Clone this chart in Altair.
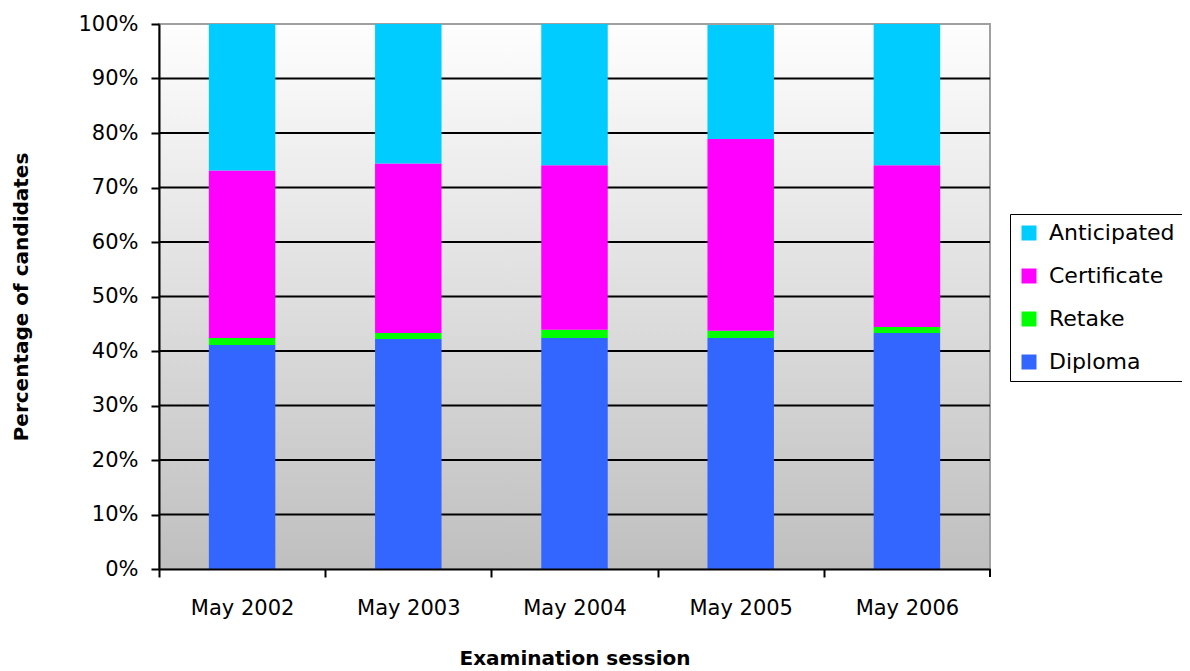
import altair as alt
import pandas as pd

sessions = ["May 2002", "May 2003", "May 2004", "May 2005", "May 2006"]
series = ["Diploma", "Retake", "Certificate", "Anticipated"]
diploma = [41.1, 42.2, 42.4, 42.4, 43.3]
retake = [1.3, 1.1, 1.5, 1.3, 1.1]
certificate = [30.7, 31.1, 30.2, 35.2, 29.7]
anticipated = [26.9, 25.6, 25.9, 20.9, 25.9]
legend_order = ["Anticipated", "Certificate", "Retake", "Diploma"]
legend_colors = ["#00CCFF", "#FF00FF", "#00FF00", "#3366FF"]
y_ticks = list(range(0, 101, 10))
grid_vals = list(range(10, 100, 10))

rows = []
for i, s in enumerate(sessions):
    for k, (name, vals) in enumerate(zip(series, [diploma, retake, certificate, anticipated])):
        rows.append({"session": s, "series": name, "value": vals[i], "order": k})
df = pd.DataFrame(rows)

W, H = 831, 545
FONT = "DejaVu Sans"
PAD_INNER, PAD_OUTER = 0.6, 0.3
step = W / (len(sessions) - PAD_INNER + 2 * PAD_OUTER)

xscale = alt.Scale(domain=sessions, paddingInner=PAD_INNER, paddingOuter=PAD_OUTER)
yscale = alt.Scale(domain=[0, 100], nice=False)
yaxis = alt.Axis(values=y_ticks, labelExpr="datum.value + '%'", grid=False,
                 tickSize=8, tickWidth=2, tickColor="black",
                 domainColor="black", domainWidth=2,
                 labelFontSize=21, labelColor="black", labelPadding=13, labelFont=FONT,
                 title="Percentage of candidates", titleFontSize=20, titleFontWeight="bold",
                 titleColor="black", titleFont=FONT, titleX=-138, titleY=272.5, titleAngle=270,
                 titleAlign="center", titleBaseline="middle", zindex=1)
xaxis = alt.Axis(labelAngle=0, labelFontSize=21, labelColor="black",
                 labelFont=FONT, labelPadding=20, tickSize=8, tickWidth=2, tickColor="black",
                 tickOffset=-step / 2, labelOffset=step / 2,
                 domainColor="black", domainWidth=2, grid=False,
                 title="Examination session", titleFontSize=20, titleFontWeight="bold",
                 titleColor="black", titleFont=FONT, titleY=95, titleBaseline="alphabetic",
                 zindex=1)

bg = alt.Chart(pd.DataFrame({"a": [0]})).mark_rect(
    fill=alt.Gradient(gradient="linear",
                      stops=[alt.GradientStop(color="#fefefe", offset=0),
                             alt.GradientStop(color="#bfbfbf", offset=1)],
                      x1=0, x2=0, y1=0, y2=1),
    stroke="#a0a0a0", strokeWidth=2
).encode(x=alt.value(0), x2=alt.value(W), y=alt.value(0), y2=alt.value(H))

grid = alt.Chart(pd.DataFrame({"g": grid_vals})).mark_rule(color="black", strokeWidth=2).encode(
    y=alt.Y("g:Q", scale=yscale, axis=yaxis),
    x=alt.value(0), x2=alt.value(W)
)

bars = alt.Chart(df).mark_bar().encode(
    x=alt.X("session:N", sort=sessions, scale=xscale, axis=xaxis),
    y=alt.Y("value:Q", stack="zero", scale=yscale, axis=yaxis),
    color=alt.Color("series:N", scale=alt.Scale(domain=legend_order, range=legend_colors),
                    legend=alt.Legend(title=None, orient="none", legendX=851, legendY=190,
                                      direction="vertical", symbolType="square", symbolSize=225,
                                      symbolStrokeWidth=0, labelFontSize=22, labelColor="black",
                                      labelFont=FONT, labelOffset=9, rowPadding=21, padding=8,
                                      strokeColor="black", fillColor="white")),
    order=alt.Order("order:Q")
)

# closing tick at the right end of the category axis
end_tick = alt.Chart(pd.DataFrame({"a": [0]})).mark_rule(color="black", strokeWidth=2).encode(
    x=alt.value(W), y=alt.value(H), y2=alt.value(H + 8)
)

chart = alt.layer(bg, grid, bars, end_tick).properties(
    width=W, height=H,
    autosize=alt.AutoSizeParams(type="none"),
    padding={"left": 151, "top": 16, "right": 192, "bottom": 100}
).configure_view(stroke=None).configure(font=FONT)

chart.save("out.html", embed_options={"renderer": "svg", "actions": False})
